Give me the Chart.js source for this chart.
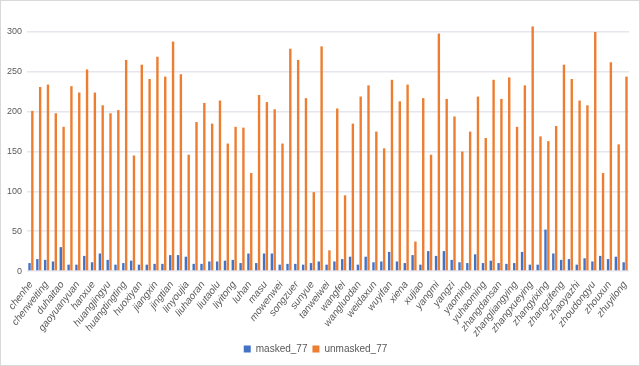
<!DOCTYPE html>
<html>
<head>
<meta charset="utf-8">
<script src="https://cdn.jsdelivr.net/npm/chart.js@4"></script>
<style>
  html, body { margin: 0; padding: 0; background: #fff; }
  #wrap { width: 640px; height: 366px; box-sizing: border-box; border: 1px solid #d9d9d9; position: relative; }
</style>
</head>
<body>
<div id="wrap"><canvas id="barChart"></canvas></div>
<script>
// names, alphabetical; only every other one is printed on the axis
const names = [
    'chenhe', 'chenkun', 'chenweiting', 'dengchao', 'duhaitao', 'fanbingbing', 'gaoyuanyuan', 'guanxiaotong',
    'hanxue', 'huangbo', 'huangjingyu', 'huanglei', 'huangtingting', 'huge', 'huoxiyan', 'jiangwen',
    'jiangxin', 'jinchen', 'jingtian', 'liming', 'linyoujia', 'liudehua', 'liuhaoran', 'liushishi',
    'liutaolu', 'liyifeng', 'liyitong', 'liyuchun', 'luhan', 'luoyunxi', 'masu', 'mayili',
    'mowenwei', 'nini', 'songzuer', 'sunli', 'sunyue', 'tangyan', 'tanweiwei', 'tongliya',
    'wangfei', 'wangkai', 'wangluodan', 'weichen', 'weidaxun', 'wujing', 'wuyifan', 'xiaozhan',
    'xiena', 'xiongdailin', 'xujiao', 'yangkun', 'yangmi', 'yangyang', 'yangzi', 'yanni',
    'yaoming', 'yuanquan', 'yuhaoming', 'zengli', 'zhangdansan', 'zhangjie', 'zhangliangying', 'zhangruoyun',
    'zhangxueying', 'zhangyimou', 'zhangyixing', 'zhangzhehan', 'zhangzifeng', 'zhaoliying', 'zhaoyazhi', 'zhengshuang',
    'zhoudongyu', 'zhoujielun', 'zhouxun', 'zhuyawen', 'zhuyilong'
];

const masked = [
    10, 15, 14, 12, 30, 8, 8, 19, 11, 22, 14, 8, 10, 13, 8, 8,
    9, 9, 20, 20, 18, 9, 9, 12, 12, 13, 14, 10, 22, 10, 22, 22,
    8, 9, 9, 8, 10, 12, 8, 12, 15, 18, 8, 18, 11, 12, 24, 12,
    10, 20, 8, 25, 19, 25, 14, 11, 10, 21, 10, 13, 10, 9, 10, 24,
    8, 8, 52, 22, 14, 15, 8, 16, 12, 19, 15, 18, 11
];

const unmasked = [
    201, 231, 234, 198, 181, 232, 224, 253, 224, 208, 198, 202, 265, 145, 259, 241,
    269, 244, 288, 247, 146, 187, 211, 185, 214, 160, 181, 180, 123, 221, 212, 203,
    160, 279, 265, 217, 99, 282, 26, 204, 95, 185, 219, 233, 175, 154, 240, 213,
    234, 37, 217, 146, 298, 216, 194, 150, 175, 219, 167, 240, 216, 243, 181, 233,
    307, 169, 163, 182, 259, 241, 214, 208, 300, 123, 262, 159, 244
];

const yTicks = [0, 50, 100, 150, 200, 250, 300];

const gray = '#595959';
const ctx = document.getElementById('barChart').getContext('2d');
const barChart = new Chart(ctx, {
    type: 'bar',
    data: {
        labels: names,
        datasets: [{
            label: 'masked_77',
            data: masked,
            backgroundColor: '#4472C4',
            categoryPercentage: 0.72,
            barPercentage: 0.85,
            clip: false
        }, {
            label: 'unmasked_77',
            data: unmasked,
            backgroundColor: '#ED7D31',
            categoryPercentage: 0.72,
            barPercentage: 0.85,
            clip: false
        }]
    },
    options: {
        responsive: true,
        maintainAspectRatio: false,
        animation: false,
        layout: {
            padding: { top: 31, right: 10, left: 1, bottom: 1 }
        },
        plugins: {
            legend: {
                position: 'bottom',
                labels: {
                    boxWidth: 7,
                    boxHeight: 7,
                    color: gray,
                    font: { family: 'Liberation Sans', size: 10 },
                    padding: 5
                }
            },
            tooltip: { enabled: false }
        },
        scales: {
            x: {
                grid: { display: false },
                border: { display: false },
                ticks: {
                    autoSkip: false,
                    maxRotation: 52,
                    minRotation: 52,
                    color: gray,
                    font: { family: 'Liberation Sans', size: 10, style: 'italic' },
                    padding: 0,
                    callback: function (value, index) {
                        return index % 2 === 0 ? names[index] : '';
                    }
                }
            },
            y: {
                min: 0,
                max: 300,
                afterBuildTicks: function (axis) {
                    axis.ticks = yTicks.map(v => ({ value: v }));
                },
                grid: { color: '#e6e6ee', lineWidth: 1.5, drawTicks: false },
                border: { display: false },
                ticks: {
                    color: gray,
                    font: { family: 'Liberation Sans', size: 9 },
                    padding: 5
                }
            }
        }
    }
});
</script>
</body>
</html>
